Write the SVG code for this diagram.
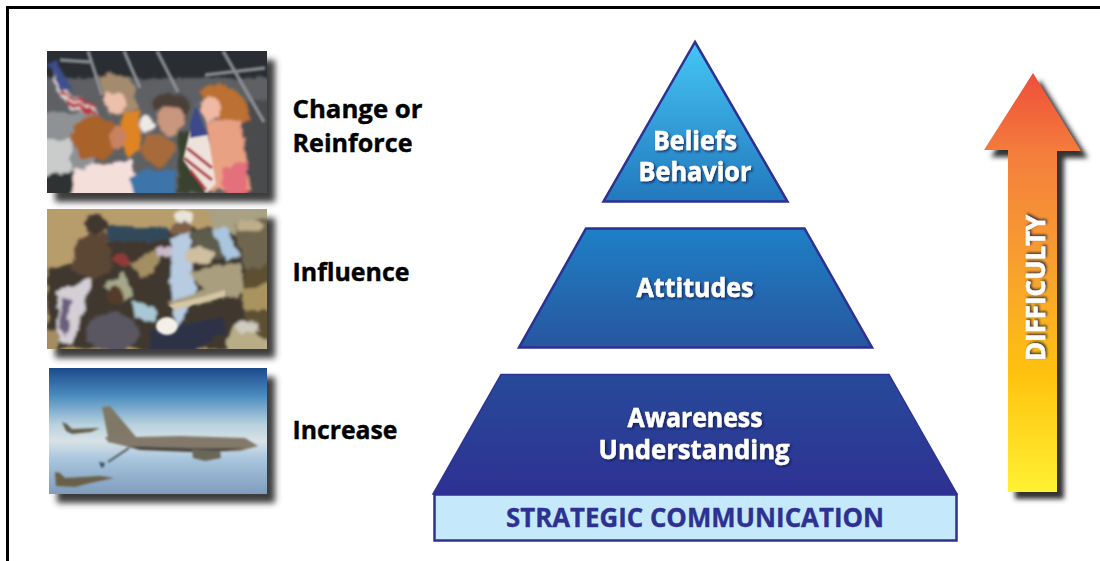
<svg xmlns="http://www.w3.org/2000/svg" width="1100" height="561" viewBox="0 0 1100 561">
<style>
.lbl{font-family:"Open Sans","Noto Sans",sans-serif;font-weight:700;font-size:25.500px;fill:#000;stroke:#000;stroke-width:.4}
.py{font-family:"Open Sans","Noto Sans",sans-serif;font-weight:700;font-size:27px;fill:#fff;stroke:#fff;stroke-width:.5;text-anchor:middle;filter:url(#ts)}
.tier{stroke:#2e3192;stroke-width:2.5;stroke-linejoin:miter}
</style>
<defs>
<linearGradient id="g1" x1="0" y1="0" x2="0" y2="1"><stop offset="0" stop-color="#45c6f5"/><stop offset="1" stop-color="#2278bd"/></linearGradient>
<linearGradient id="g2" x1="0" y1="0" x2="0" y2="1"><stop offset="0" stop-color="#1e80c6"/><stop offset="1" stop-color="#27569f"/></linearGradient>
<linearGradient id="g3" x1="0" y1="0" x2="0" y2="1"><stop offset="0" stop-color="#274a9a"/><stop offset="1" stop-color="#2e3192"/></linearGradient>
<linearGradient id="ga" gradientUnits="userSpaceOnUse" x1="0" y1="73" x2="0" y2="492"><stop offset="0" stop-color="#ee4e3a"/><stop offset=".2" stop-color="#f47f3c"/><stop offset=".5" stop-color="#f8a52c"/><stop offset=".72" stop-color="#ffc20e"/><stop offset="1" stop-color="#fff133"/></linearGradient>
<linearGradient id="sky" x1="0" y1="0" x2="0" y2="1"><stop offset="0" stop-color="#1b4a8a"/><stop offset=".22" stop-color="#4a8cbf"/><stop offset=".45" stop-color="#b9d2de"/><stop offset=".58" stop-color="#d8e2e6"/><stop offset=".72" stop-color="#a9c6de"/><stop offset="1" stop-color="#7f9cbc"/></linearGradient>
<filter id="ps" x="-20%" y="-20%" width="140%" height="140%"><feGaussianBlur stdDeviation="3"/></filter>
<filter id="as" x="-30%" y="-10%" width="160%" height="120%"><feGaussianBlur stdDeviation="2.5"/></filter>
<filter id="ts" x="-20%" y="-30%" width="140%" height="170%"><feDropShadow dx="1.5" dy="1.5" stdDeviation="1.3" flood-color="#0b1d4a" flood-opacity=".8"/></filter>
<filter id="b" x="-10%" y="-10%" width="120%" height="120%"><feTurbulence type="fractalNoise" baseFrequency=".09" numOctaves="3" seed="7" result="n"/><feDisplacementMap in="SourceGraphic" in2="n" scale="9" xChannelSelector="R" yChannelSelector="G"/><feGaussianBlur stdDeviation="1.8"/></filter>
<filter id="b2" x="-10%" y="-10%" width="120%" height="120%"><feGaussianBlur stdDeviation="1"/></filter>
<clipPath id="c1"><rect x="47" y="51" width="220" height="142"/></clipPath>
<clipPath id="c2"><rect x="47" y="209" width="220" height="140"/></clipPath>
<clipPath id="c3"><rect x="49" y="368" width="218" height="126"/></clipPath>
</defs>
<rect width="1100" height="561" fill="#fff"/>
<path d="M7.5 561V7.5H1100" fill="none" stroke="#000" stroke-width="3"/>

<g id="photo-family">
<rect x="55" y="60" width="220" height="142" fill="#3c3c3e" filter="url(#ps)"/>
<g clip-path="url(#c1)">
<rect x="47" y="51" width="220" height="142" fill="#5e6064"/>
<g filter="url(#b)">
<rect x="40" y="44" width="235" height="34" fill="#2c2d32"/>
<rect x="40" y="112" width="55" height="90" fill="#8e9294"/>
<rect x="40" y="140" width="30" height="40" fill="#c9cccb"/>
<rect x="240" y="100" width="34" height="100" fill="#4a4b4e"/>
<path d="M50 62 70 92 95 108 98 116 70 108 55 85Z" fill="#e9dede"/>
<path d="M48 62 56 62 72 88 62 92Z" fill="#3d4f8d"/>
<path d="M62 92 95 108M66 101 96 115" stroke="#b8393e" stroke-width="4"/>
<path d="M98 78Q118 68 135 85L136 110 110 115Z" fill="#a58b6e"/>
<ellipse cx="115" cy="102" rx="12" ry="11" fill="#ecc0ab"/>
<path d="M121 112 140 112 139 150 128 158 122 140Z" fill="#df8422"/>
<ellipse cx="147" cy="124" rx="7" ry="10" fill="#efe9e6"/>
<path d="M152 100Q170 84 190 102L188 120 155 110Z" fill="#4b4138"/>
<ellipse cx="170" cy="120" rx="14" ry="15" fill="#c9967e"/>
<path d="M200 92Q225 74 245 100L252 122 225 124 205 112Z" fill="#bc6f30"/>
<ellipse cx="210" cy="108" rx="10" ry="13" fill="#efb9a4"/>
<path d="M207 122 240 118 252 190H205Z" fill="#e9a184"/>
<path d="M222 168 248 162 248 196H224Z" fill="#e36f7a"/>
<rect x="178" y="132" width="28" height="62" fill="#37432f"/>
<ellipse cx="95" cy="138" rx="24" ry="22" fill="#a8622c"/>
<ellipse cx="118" cy="138" rx="8" ry="13" fill="#c8825f"/>
<path d="M72 168 130 160 143 198H70Z" fill="#f5dfdb"/>
<path d="M40 178 75 170 70 198H40Z" fill="#2f3033"/>
<ellipse cx="158" cy="150" rx="17" ry="16" fill="#a66a3a"/>
<path d="M130 178 141 170 175 170 176 198H135Z" fill="#3d74ab"/>
</g>
<g filter="url(#b2)">
<path d="M88 51 102 95M124 51 140 88M157 51 178 92M223 51 264 122M205 75 265 68M60 60 90 62" stroke="#8f9297" stroke-width="3.500" fill="none" opacity=".9"/>
<path d="M196 104 208 135 216 184 206 193 183 160 190 130Z" fill="#ede2dc"/>
<path d="M196 104 208 135 190 138 190 125Z" fill="#3c4a8a"/>
<path d="M187 148 212 168M184 158 212 180M190 170 206 190" stroke="#b33b40" stroke-width="3.200"/>
</g>
</g>
</g>

<g id="photo-crowd">
<rect x="55" y="218" width="220" height="140" fill="#3c3c3e" filter="url(#ps)"/>
<g clip-path="url(#c2)">
<rect x="47" y="209" width="220" height="140" fill="#b79c6c"/>
<g filter="url(#b)">
<path d="M47 270 75 262 130 230 267 225V349H47Z" fill="#3f372d"/>
<rect x="105" y="227" width="65" height="14" fill="#33495a"/>
<path d="M205 205 275 205V240L215 232Z" fill="#a8a184"/>
<path d="M72 268 78 240 92 232 108 235 112 270 92 280Z" fill="#5b4635"/>
<ellipse cx="96" cy="224" rx="11" ry="10" fill="#40372f"/>
<ellipse cx="122" cy="260" rx="9" ry="6" fill="#913b37"/>
<path d="M130 262 155 250 160 262 140 280Z" fill="#a48f62"/>
<path d="M105 285 125 272 132 295 118 305Z" fill="#a6a88a"/>
<path d="M155 248 178 245 180 255 158 258Z" fill="#cbb9c9"/>
<ellipse cx="185" cy="218" rx="10" ry="7" fill="#e9e5dc"/>
<ellipse cx="182" cy="229" rx="10" ry="8" fill="#7f6048"/>
<path d="M172 240 190 232 196 290 178 330 170 295Z" fill="#b7cbe1"/>
<path d="M190 232 212 228 240 258 200 262Z" fill="#5d5c4e"/>
<path d="M213 230 225 228 240 255 228 262Z" fill="#a9c6de"/>
<path d="M235 225 275 215V265L245 270Z" fill="#706650"/>
<ellipse cx="250" cy="226" rx="14" ry="6" fill="#bfae8c"/>
<ellipse cx="200" cy="255" rx="15" ry="9" fill="#cfbea0"/>
<path d="M190 272 240 262 245 295 215 300 172 307 168 302 205 290Z" fill="#a99f7f"/>
<path d="M245 270 275 262V355H245Z" fill="#5d4f32"/>
<path d="M240 290 275 283 275 310 245 310Z" fill="#a99460"/>
<ellipse cx="115" cy="296" rx="10" ry="9" fill="#553b2a"/>
<path d="M57 290 90 278 90 290 72 345 58 340Z" fill="#d4cfd6"/>
<path d="M60 300 72 298 66 335 60 330Z" fill="#6b5f7d"/>
<ellipse cx="112" cy="333" rx="26" ry="20" fill="#5a5762"/>
<path d="M132 300 158 310 155 322 135 318Z" fill="#a9c8d4"/>
<path d="M40 325 58 330 58 355H40Z" fill="#a58c62"/>
<path d="M150 330 226 316 224 332 190 355H150Z" fill="#2e3347"/>
<path d="M225 338 238 322 275 345V355H225Z" fill="#b8ad86"/>
<ellipse cx="247" cy="327" rx="12" ry="7" fill="#cfcbbf"/>
</g>
<g filter="url(#b2)"><ellipse cx="167" cy="326" rx="11" ry="9" fill="#f3f0e9"/><path d="M168 305 205 296 225 290 225 296 175 310Z" fill="#d5c6a4"/></g>
</g>
</g>

<g id="photo-plane">
<rect x="57" y="377" width="218" height="126" fill="#3c3c3e" filter="url(#ps)"/>
<g clip-path="url(#c3)">
<rect x="49" y="368" width="218" height="126" fill="url(#sky)"/>
<g filter="url(#b2)">
<path d="M62 422 67 424 72 429 100 428 91 432 72 434 66 431Z" fill="#66604f"/>
<path d="M102 407 110 406 136 437 108 437Z" fill="#7f7866"/>
<path d="M105 437 135 437 180 436 245 438 258 446 240 451 200 452 160 448 125 446 108 442Z" fill="#82796a"/>
<path d="M125 446 190 448 245 448 225 451 190 452 140 450Z" fill="#4d4a44"/>
<path d="M192 449 220 451 221 458 205 461 193 458Z" fill="#6b6659"/>
<path d="M129 448 108 462" stroke="#4f5250" stroke-width="2"/>
<path d="M99 462 105 463 103 468 101 467Z" fill="#3a4d5f"/>
<path d="M55 472 60 473 65 478 100 476 114 478 90 483 75 487 56 486Z" fill="#6a604a"/>
</g>
</g>
</g>

<g id="label-change"><text class="lbl" x="292.500" y="118" textLength="130" lengthAdjust="spacingAndGlyphs">Change or</text><text class="lbl" x="292.500" y="152" textLength="120" lengthAdjust="spacingAndGlyphs">Reinforce</text></g>
<g id="label-influence"><text class="lbl" x="292.500" y="281" textLength="117" lengthAdjust="spacingAndGlyphs">Influence</text></g>
<g id="label-increase"><text class="lbl" x="292.500" y="439" textLength="105" lengthAdjust="spacingAndGlyphs">Increase</text></g>

<g id="tier-beliefs">
<path class="tier" d="M695 42 787.500 201.500H603.500Z" fill="url(#g1)"/>
<text class="py" x="695" y="150" textLength="84" lengthAdjust="spacingAndGlyphs">Beliefs</text>
<text class="py" x="695" y="181" textLength="113" lengthAdjust="spacingAndGlyphs">Behavior</text>
</g>
<g id="tier-attitudes">
<path class="tier" d="M586 228.500H804.500L872 347.500H519Z" fill="url(#g2)"/>
<text class="py" x="695" y="297" textLength="117" lengthAdjust="spacingAndGlyphs">Attitudes</text>
</g>
<g id="tier-awareness">
<path d="M501 374.500H889L957 494H433Z" fill="url(#g3)" stroke="#2e3192" stroke-width="1.500"/>
<text class="py" x="695" y="427" textLength="135" lengthAdjust="spacingAndGlyphs">Awareness</text>
<text class="py" x="694" y="459" textLength="191" lengthAdjust="spacingAndGlyphs">Understanding</text>
</g>
<g id="base-strategic">
<rect x="434.500" y="494.500" width="522" height="46" fill="#c5e9fb" stroke="#2e3192" stroke-width="2.500"/>
<text x="695" y="527" text-anchor="middle" font-family="'Open Sans','Noto Sans',sans-serif" font-weight="700" font-size="27" fill="#2e3192" stroke="#2e3192" stroke-width=".4" textLength="378" lengthAdjust="spacingAndGlyphs">STRATEGIC COMMUNICATION</text>
</g>

<g id="arrow-difficulty">
<path d="M1033 73 1081 151H1057V492H1008V150H984Z" transform="translate(7 7)" fill="#333" filter="url(#as)"/>
<path d="M1033 73 1081 151H1057V492H1008V150H984Z" fill="url(#ga)"/>
<text class="py" transform="translate(1045 288) rotate(-90)" x="0" y="0" textLength="146" lengthAdjust="spacingAndGlyphs">DIFFICULTY</text>
</g>
</svg>
